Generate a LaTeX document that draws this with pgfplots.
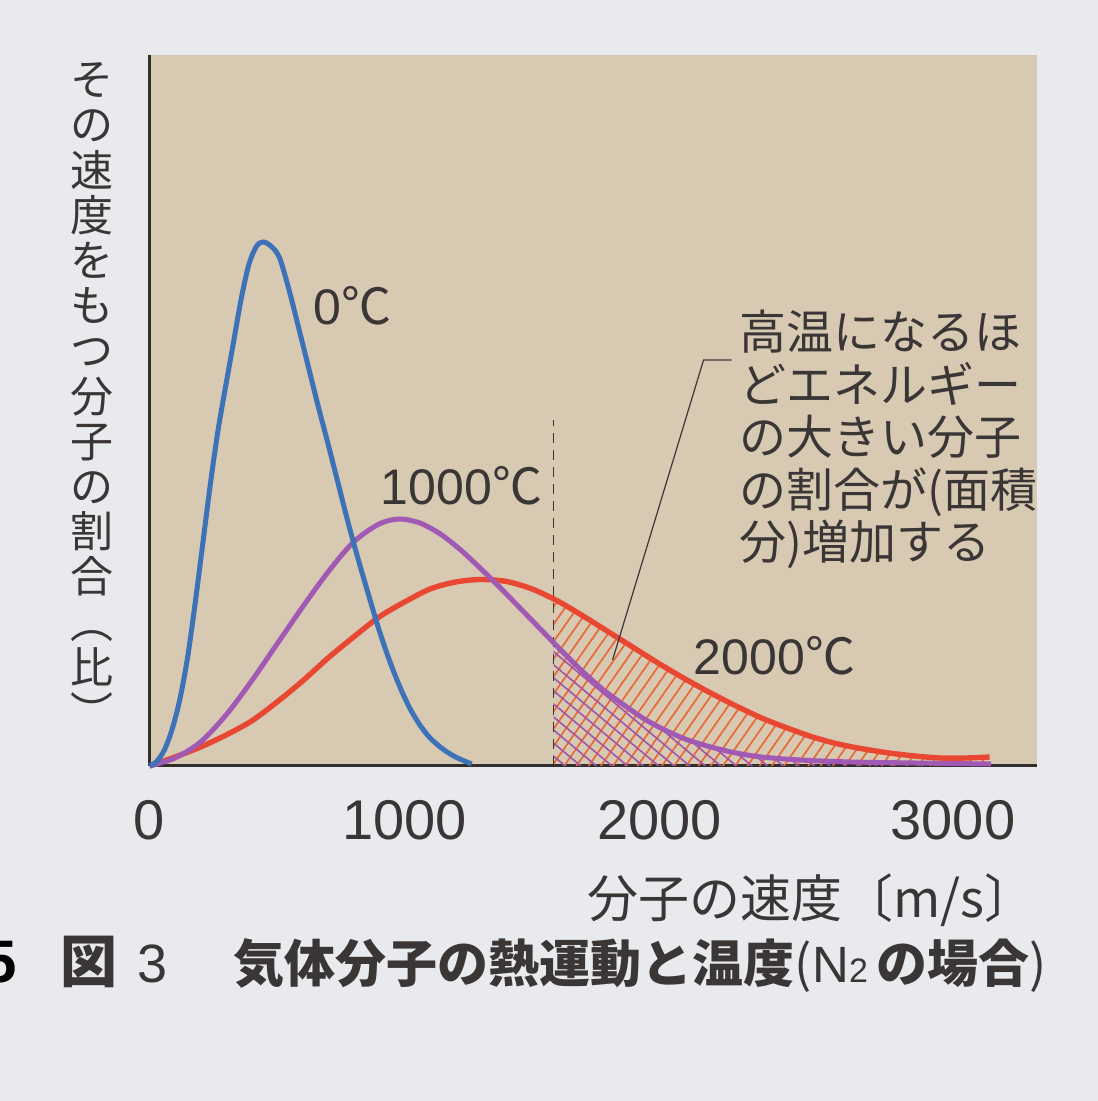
\documentclass[border=0pt]{standalone}
\usepackage{fontspec}
\setmainfont{Liberation Sans}
\newfontfamily\jp{Noto Sans CJK JP}
\usepackage{pgfplots}
\usepackage{pgfplotstable}
\pgfplotsset{compat=1.18}
\usepgfplotslibrary{fillbetween}
\usetikzlibrary{patterns.meta}
\definecolor{pagebg}{RGB}{232,234,237}
\definecolor{plotbg}{RGB}{216,201,178}
\definecolor{textcol}{RGB}{58,54,54}
\definecolor{axiscol}{RGB}{50,46,46}
\definecolor{cblue}{RGB}{62,114,184}
\definecolor{cpurple}{RGB}{160,90,180}
\definecolor{cred}{RGB}{232,72,50}
\definecolor{hatchor}{RGB}{232,105,55}
\definecolor{hatchpu}{RGB}{160,85,170}
% 2000 C
\pgfplotstableread{
x y
0 0
100 9
200 19
300 31
400 45
500 64
600 85
700 108
800 129
900 149
1000 164
1100 177
1200 184
1300 186.5
1400 184.5
1500 177
1600 165
1700 150
1800 134
1900 118
2000 102
2100 87
2200 73
2300 60
2400 48
2500 38
2600 29
2700 22
2800 17
2900 13
3000 10
3100 8
3200 8
3294 9
}\redtab
% 1000 C
\pgfplotstableread{
x y
0 0
100 8
200 24
300 51
400 85
500 122
600 159
700 194
800 224
900 242
980 247
1060 243
1140 232
1220 216
1300 197
1380 177
1460 156
1540 135
1620 114
1700 94
1780 76
1860 61
1940 47
2020 36
2100 27
2200 19
2300 13
2400 9
2550 6
2750 4
3000 3
3300 2
}\purtab
% 0 C
\pgfplotstableread{
x y
0 0
30 5
60 17
90 38
120 68
150 110
180 165
210 225
240 285
270 338
300 382
330 425
360 468
390 502
420 520
447 524
480 519
510 508
545 478
580 443
620 402
660 361
700 322
740 282
780 242
820 205
860 170
900 136
940 106
980 80
1020 58
1060 41
1100 28
1150 17
1200 9
1263 2
}\bluetab
\begin{document}
\pagecolor{pagebg}
\begin{tikzpicture}
\begin{axis}[
  at={(-2pt,0pt)}, anchor=south west,
  scale only axis, width=443.5pt, height=355.5pt,
  xmin=0, xmax=3478, ymin=0, ymax=711,
  axis background/.style={fill=plotbg},
  axis lines=left,
  axis line style={-, line width=1.5pt, draw=axiscol},
  xtick={0,1000,2000,3150},
  xticklabels={0,1000,2000,3000},
  major tick length=0pt,
  ytick=\empty,
  xticklabel style={anchor=base, inner sep=0pt, yshift=-37pt, font=\fontsize{28}{28}\selectfont, text=textcol},
  clip=false,
]
\addplot[draw=none, name path=base] coordinates {(0,0) (3478,0)};
\addplot[draw=none, name path=redc, smooth] table {\redtab};
\addplot[draw=none, name path=purc, smooth] table {\purtab};
\addplot[pattern={Lines[angle=55,distance=5pt,line width=0.85pt]}, pattern color=hatchor]
  fill between[of=redc and base, soft clip={domain=1584:3294}];
\addplot[pattern={Lines[angle=-40,distance=5pt,line width=0.8pt]}, pattern color=hatchpu]
  fill between[of=purc and base, soft clip={domain=1584:3294}];
\draw[dash pattern=on 5pt off 3.5pt, line width=0.7pt, draw=textcol] (axis cs:1584,0) -- (axis cs:1584,346);
\addplot[cred, line width=2.7pt, smooth] table {\redtab};
\addplot[cpurple, line width=2.5pt, smooth] table {\purtab};
\addplot[cblue, line width=2.5pt, smooth] table {\bluetab};
\end{axis}
% curve labels
\node[anchor=base, inner sep=0, text=textcol, font=\fontsize{25}{25}\selectfont] at (99.5pt,220.5pt) {0{\jp ℃}};
\node[anchor=base, inner sep=0, text=textcol, font=\fontsize{25}{25}\selectfont] at (154pt,130.5pt) {1000{\jp ℃}};
\node[anchor=base, inner sep=0, text=textcol, font=\fontsize{25}{25}\selectfont] at (310.5pt,45.5pt) {2000{\jp ℃}};
% annotation
\draw[line width=0.6pt, textcol] (289pt,203pt) -- (275pt,203pt) -- (229.5pt,53pt);
\begin{scope}[every node/.style={anchor=base west, inner sep=0, text=textcol, font=\jp\fontsize{23.5}{26}\selectfont}]
\node at (293pt,208pt) {高温になるほ};
\node at (293pt,181.75pt) {どエネルギー};
\node at (293pt,155.5pt) {の大きい分子};
\node at (293pt,129.25pt) {の割合が(面積};
\node at (293pt,103pt) {分)増加する};
\end{scope}
% y label
\node[inner sep=0, align=center, text=textcol, font=\jp\fontsize{21.5}{22.6}\selectfont] at (-31pt,185.25pt)
 {そ\\の\\速\\度\\を\\も\\つ\\分\\子\\の\\割\\合\\︵\\比\\︶};
% x label
\node[anchor=base, inner sep=0, text=textcol, font=\jp\fontsize{25.5}{25.5}\selectfont] at (329pt,-75.5pt) {分子の速度〔m/s〕};
% caption
\node[anchor=base east, inner sep=0, text=black, font=\bfseries\fontsize{30}{30}\selectfont] at (-68pt,-108pt) {5};
\node[anchor=base west, inner sep=0, text=textcol, font=\jp\bfseries\fontsize{28.5}{28.5}\selectfont] at (-46.5pt,-108pt) {図};
\node[anchor=base west, inner sep=0, text=textcol, font=\fontsize{27}{27}\selectfont] at (-8pt,-108pt) {3};
\node[anchor=base west, inner sep=0, text=textcol, font=\fontsize{25.5}{25.5}\selectfont] at (40pt,-108pt)
 {{\jp\bfseries 気体分子の熱運動と温度}{\jp (}N{\fontsize{17}{17}\selectfont 2}\,{\jp\bfseries の場合}{\jp )}};
\pgfresetboundingbox
\path[use as bounding box] (-74pt,-167.5pt) rectangle (472pt,383pt);
\end{tikzpicture}
\end{document}
